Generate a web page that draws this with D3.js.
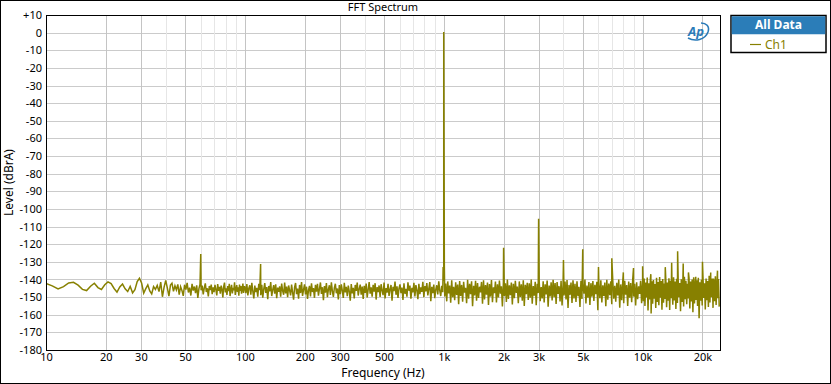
<!DOCTYPE html>
<meta charset="utf-8">
<style>
  body { margin: 0; background: #fff; }
  svg text { font-family: "Noto Sans", "DejaVu Sans", sans-serif; }
  .tick text { font-size: 11px; fill: #000; }
</style>
<svg width="831" height="384"></svg>
<script src="https://cdn.jsdelivr.net/npm/d3@7"></script>
<script>

// y ticks (dBrA) and labelled x ticks (Hz)
var yTicks = [10, 0, -10, -20, -30, -40, -50, -60, -70, -80, -90, -100, -110, -120, -130, -140, -150, -160, -170, -180];
var xMajor = [10, 20, 30, 50, 100, 200, 300, 500, 1000, 2000, 3000, 5000, 10000, 20000];
var xMinor = [40, 60, 70, 80, 90, 400, 600, 700, 800, 900, 4000, 6000, 7000, 8000, 9000];

// noise floor 10..100 Hz, one value per 0.75 Hz bin
var lowLevels = [
  -142.2,-143.6,-145.4,-144.1,-142.0,-141.6,-143.2,-145.6,-146.3,-143.8,-142.1,-144.6,-145.7,-143.0,
  -141.4,-142.3,-145.1,-147.2,-144.2,-142.6,-145.3,-146.8,-143.9,-147.6,-145.8,-141.2,-139.3,
  -142.0,-147.7,-145.2,-143.1,-146.5,-148.2,-144.0,-145.6,-143.4,-146.9,-141.5,-149.8,-144.3,
  -140.6,-144.8,-149.5,-143.2,-142.1,-146.7,-143.6,-145.9,-142.8,-148.6,-144.1,-146.2,-149.3,
  -143.0,-145.7,-141.9,-147.4,-144.6,-149.1,-142.5,-146.3,-144.0,-147.8,-143.3,-150.4,-145.2,-142.7,
  -146.1,-143.4,-148.5,-144.8,-142.2,-147.1,-145.0,-149.6,-143.7,-146.0,-142.9,-148.3,-144.5,
  -147.2,-143.1,-145.8,-149.0,-142.6,-146.4,-144.2,-148.1,-143.5,-145.6,-150.2,-144.0,-141.8,-147.3,
  -145.1,-148.7,-143.8,-146.6,-142.4,-149.4,-145.3,-143.0,-147.9,-144.7,-146.2,-141.6,-148.8,-145.5,
  -143.2,-147.0,-144.4,-149.2,-142.9,-146.5,-143.7,-148.0,-145.0,-142.3,-147.6,-144.1
];

// noise floor 100 Hz..1 kHz
var midLevels = [
  -144.2,-147.8,-142.6,-149.1,-145.0,-143.3,-148.6,-141.9,-146.7,-150.8,
  -143.5,-147.2,-144.8,-149.7,-142.4,-146.1,-148.9,-143.0,-150.3,-145.4,
  -142.1,-147.6,-144.3,-151.2,-143.7,-146.8,-141.5,-149.4,-145.9,-143.2,
  -148.1,-142.7,-150.6,-144.6,-147.0,-143.9,-149.8,-142.3,-146.4,-148.7,
  -141.8,-147.9,-144.0,-150.1,-143.4,-146.2,-149.0,-142.9,-147.4,-151.5,
  -144.5,-142.0,-148.3,-145.2,-150.9,-143.1,-147.7,-141.4,-149.3,-145.7,
  -142.8,-148.5,-144.1,-151.0,-146.0,-143.6,-149.6,-142.2,-147.1,-144.9,
  -150.4,-143.0,-146.9,-142.5,-149.2,-145.3,-141.7,-148.2,-144.4,-151.8,
  -143.8,-147.5,-142.0,-150.0,-145.6,-143.3,-148.8,-141.6,-146.6,-149.9,
  -144.7,-142.4,-147.8,-145.1,-151.3,-143.2,-148.4,-142.8,-146.3,-150.5,
  -141.9,-147.3,-144.2,-149.5,-143.5,-146.8,-152.0,-142.6,-147.9,-144.8,
  -150.7,-143.1,-146.5,-141.8,-149.1,-145.4,-142.9,-148.6,-144.0,-151.1,
  -143.6,-147.6,-142.3,-150.2,-145.8,-141.5,-148.0,-144.5,-149.7,-143.0,
  -146.9,-142.1,-151.4,-144.3,-147.2,-143.4,-149.9,-142.7,-146.2,-148.9,
  -141.7,-150.8,-144.9,-147.5,-142.5,-149.3,-145.5,-143.1,-152.1,-144.1,
  -146.6,-141.2,-148.7,-143.9,-150.4,-145.0,-142.8,-147.7,-144.6,-151.6,
  -142.2,-148.1,-145.3,-149.8,-141.6,-146.4,-143.5,-150.9,-144.8,-147.3,
  -141.9,-149.6,-143.2,-146.0,-151.2,-142.4,-148.3,-144.5,-147.0,-141.3,
  -150.1,-143.8,-146.7,-142.0,-149.0,-145.2,-141.5,-152.3,-144.2,-147.8,
  -142.9,-150.6,-145.7,-143.3,-148.5,-141.1,-146.3,-149.4,-143.6,-147.2
];

// noise floor 1 kHz..10 kHz
var highLevels = [
  -140.8,-149.6,-142.3,-152.4,-141.1,-147.9,-143.5,-153.2,-140.4,-150.1,
  -144.2,-151.7,-141.6,-148.8,-142.9,-154.0,-140.9,-149.3,-143.1,-152.6,
  -141.3,-147.5,-144.7,-153.5,-140.2,-150.9,-142.5,-148.4,-141.0,-155.1,
  -143.6,-149.0,-140.7,-152.1,-142.0,-150.5,-144.1,-147.3,-141.4,-153.8,
  -140.5,-151.3,-143.2,-148.6,-141.8,-154.4,-142.6,-149.7,-140.3,-152.9,
  -144.5,-147.8,-141.2,-153.1,-142.8,-150.2,-140.6,-148.1,-143.9,-155.3,
  -141.5,-149.4,-142.1,-152.7,-140.0,-151.0,-143.3,-148.9,-141.7,-154.2,
  -142.4,-150.6,-140.8,-147.6,-144.0,-153.4,-141.1,-149.9,-142.7,-152.0,
  -140.4,-155.0,-143.0,-148.3,-141.9,-151.6,-142.2,-150.3,-140.1,-153.7,
  -143.7,-149.2,-141.3,-154.6,-142.5,-147.7,-140.9,-152.3,-144.3,-150.8,
  -141.0,-153.0,-142.8,-148.5,-140.6,-155.4,-143.4,-149.6,-141.6,-151.9,
  -140.2,-150.0,-142.0,-153.9,-141.4,-148.2,-143.8,-152.5,-140.7,-154.8,
  -142.9,-149.1,-141.2,-151.4,-140.3,-156.2,-143.1,-148.7,-141.8,-153.3,
  -140.5,-150.7,-142.4,-152.8,-141.0,-149.5,-144.2,-155.6,-140.8,-151.1,
  -142.6,-148.0,-140.1,-153.6,-143.5,-150.4,-141.5,-154.5,-142.1,-149.8,
  -140.9,-152.2,-143.0,-148.4,-141.3,-157.4,-142.7,-150.6,-140.4,-153.0,
  -143.3,-149.3,-141.7,-155.2,-140.2,-151.5,-142.3,-148.9,-141.1,-154.1,
  -140.6,-150.9,-143.6,-152.6,-141.9,-149.0,-140.0,-156.0,-142.8,-151.8,
  -141.4,-153.5,-140.7,-148.6,-143.2,-155.0,-141.2,-150.3,-142.0,-152.9,
  -140.3,-149.7,-142.5,-154.7,-141.6,-151.2,-143.9,-148.2,-140.8,-153.4
];

// noise floor 10 kHz..24.5 kHz
var topLevels = [
  -140.6,-152.3,-139.4,-155.1,-141.8,-150.2,-138.9,-157.6,-142.1,-151.4,
  -139.7,-159.3,-141.0,-153.8,-140.3,-150.9,-142.6,-156.2,-139.1,-152.7,
  -141.5,-154.6,-138.6,-150.4,-140.9,-157.1,-139.8,-153.2,-142.3,-151.0,
  -140.1,-155.8,-141.7,-152.1,-139.3,-157.3,-140.7,-150.6,-142.8,-154.3,
  -138.8,-151.9,-141.2,-156.7,-139.6,-153.4,-140.4,-150.1,-142.0,-158.0,
  -139.9,-152.8,-141.4,-155.3,-138.5,-151.2,-140.8,-154.0,-142.4,-150.8,
  -139.2,-156.5,-141.1,-152.5,-140.0,-158.6,-138.7,-153.6,-141.9,-151.6,
  -140.5,-155.0,-139.0,-162.0,-141.6,-152.0,-140.2,-154.8,-138.4,-150.5,
  -142.2,-157.0,-139.5,-151.8,-140.9,-155.6,-137.9,-153.1,-141.3,-150.0,
  -139.4,-156.1,-140.6,-152.4,-138.2,-154.4,-141.8,-150.7,-139.7,-155.4
];

// mains hum, the 1 kHz tone and its harmonics / spurs
var peakFreqs  = [60, 120, 993, 1000, 1007, 2000, 3000, 4000, 5000, 6000, 7000, 8000, 9000, 10000, 11000, 13000, 14000, 15000, 16000, 17000, 18500, 20000, 22000, 22700, 23800];
var peakLevels = [-125.6, -131.2, -133, 0.4, -132, -122, -105.5, -129, -122.8, -133, -128, -136, -133.5, -132.5, -137, -133, -130.5, -124, -131, -136, -138.5, -130, -136, -139.5, -135];

var fMax = 24500;

var svg = d3.select("svg"),
  width = +svg.attr("width"),
  height = +svg.attr("height");

var pL = 46, pR = 720, pT = 15, pB = 350;

var x = d3.scaleLog().domain([10, fMax]).range([pL, pR]);
var y = d3.scaleLinear().domain([-180, 10]).range([pB, pT]);

// build the trace
var pts = [];
lowLevels.forEach(function(v, i) { pts.push([10 + i * 0.75, v]); });
function addDecade(levels, f0, f1) {
  var n = levels.length;
  levels.forEach(function(v, i) { pts.push([f0 * Math.pow(f1 / f0, i / n), v]); });
}
addDecade(midLevels, 100, 1000);
addDecade(highLevels, 1000, 10000);
addDecade(topLevels, 10000, fMax);
peakFreqs.forEach(function(f, i) { pts.push([f, peakLevels[i]]); });
pts.sort(function(a, b) { return a[0] - b[0]; });

// outer frame
svg.append("rect")
  .attr("x", 0.5).attr("y", 0.5)
  .attr("width", width - 1).attr("height", height - 1)
  .attr("fill", "#fff").attr("stroke", "#000");

// grid
var grid = svg.append("g");
grid.selectAll(".ym").data(yTicks).enter().append("line")
  .attr("x1", pL).attr("x2", pR)
  .attr("y1", function(d) { return Math.round(y(d)) + 0.5; })
  .attr("y2", function(d) { return Math.round(y(d)) + 0.5; })
  .attr("stroke", "#cbcbcb");
grid.selectAll(".xn").data(xMinor).enter().append("line")
  .attr("x1", function(d) { return Math.round(x(d)) + 0.5; })
  .attr("x2", function(d) { return Math.round(x(d)) + 0.5; })
  .attr("y1", pT).attr("y2", pB)
  .attr("stroke", "#e6e6e6");
grid.selectAll(".xm").data(xMajor).enter().append("line")
  .attr("x1", function(d) { return Math.round(x(d)) + 0.5; })
  .attr("x2", function(d) { return Math.round(x(d)) + 0.5; })
  .attr("y1", pT).attr("y2", pB)
  .attr("stroke", "#c4c4c4");

// clip + trace
svg.append("clipPath").attr("id", "clip")
  .append("rect").attr("x", pL).attr("y", pT)
  .attr("width", pR - pL).attr("height", pB - pT);

var line = d3.line()
  .x(function(d) { return x(d[0]); })
  .y(function(d) { return y(d[1]); });

svg.append("path")
  .datum(pts)
  .attr("clip-path", "url(#clip)")
  .attr("d", line)
  .attr("fill", "none")
  .attr("stroke", "#878000")
  .attr("stroke-width", 1.5)
  .attr("stroke-linejoin", "miter");

// plot border
svg.append("rect")
  .attr("x", pL + 0.5).attr("y", pT + 0.5)
  .attr("width", pR - pL).attr("height", pB - pT)
  .attr("fill", "none").attr("stroke", "#000");

// axes (labels only)
var yAxis = d3.axisLeft(y).tickValues(yTicks).tickSize(0).tickPadding(4)
  .tickFormat(function(d) { return d > 0 ? "+" + d : "" + d; });
svg.append("g").attr("transform", "translate(" + pL + ",0)").call(yAxis)
  .call(function(g) { g.select(".domain").remove(); });

var xAxis = d3.axisBottom(x).tickValues(xMajor).tickSize(0).tickPadding(3)
  .tickFormat(function(d) { return d >= 1000 ? (d / 1000) + "k" : "" + d; });
svg.append("g").attr("transform", "translate(0," + pB + ")").call(xAxis)
  .call(function(g) { g.select(".domain").remove(); });

// titles
svg.append("text")
  .attr("x", (pL + pR) / 2).attr("y", 11)
  .attr("text-anchor", "middle").style("font-size", "11px")
  .text("FFT Spectrum");

svg.append("text")
  .attr("x", (pL + pR) / 2).attr("y", 377)
  .attr("text-anchor", "middle").style("font-size", "12px")
  .text("Frequency (Hz)");

svg.append("text")
  .attr("transform", "translate(13," + (pT + pB) / 2 + ") rotate(-90)")
  .attr("text-anchor", "middle").style("font-size", "12px")
  .text("Level (dBrA)");

// AP logo
var logo = svg.append("g").attr("transform", "translate(697,32)");
logo.append("path")
  .attr("d", "M-9,6 C-2,10 8,8 11,0 C13,-6 9,-9 4,-9")
  .attr("fill", "none").attr("stroke", "#2a7ab8").attr("stroke-width", 1.6);
logo.append("text")
  .attr("x", -1).attr("y", 4).attr("text-anchor", "middle")
  .style("font-size", "13px").style("font-weight", "bold").style("font-style", "italic")
  .attr("fill", "#2a7ab8")
  .text("Ap");

// legend
var leg = svg.append("g");
leg.append("rect")
  .attr("x", 731).attr("y", 15.5).attr("width", 95).attr("height", 37)
  .attr("fill", "#fff").attr("stroke", "#000").attr("stroke-width", 1.5);
leg.append("rect")
  .attr("x", 731.75).attr("y", 16.25).attr("width", 93.5).attr("height", 18)
  .attr("fill", "#2b7db8");
leg.append("text")
  .attr("x", 778.5).attr("y", 29).attr("text-anchor", "middle")
  .style("font-size", "12px").style("font-weight", "bold").attr("fill", "#fff")
  .text("All Data");
leg.append("line")
  .attr("x1", 750).attr("x2", 761).attr("y1", 44.5).attr("y2", 44.5)
  .attr("stroke", "#878000").attr("stroke-width", 1.2);
leg.append("text")
  .attr("x", 765).attr("y", 48.5)
  .style("font-size", "12px").attr("fill", "#878000")
  .text("Ch1");

</script>
